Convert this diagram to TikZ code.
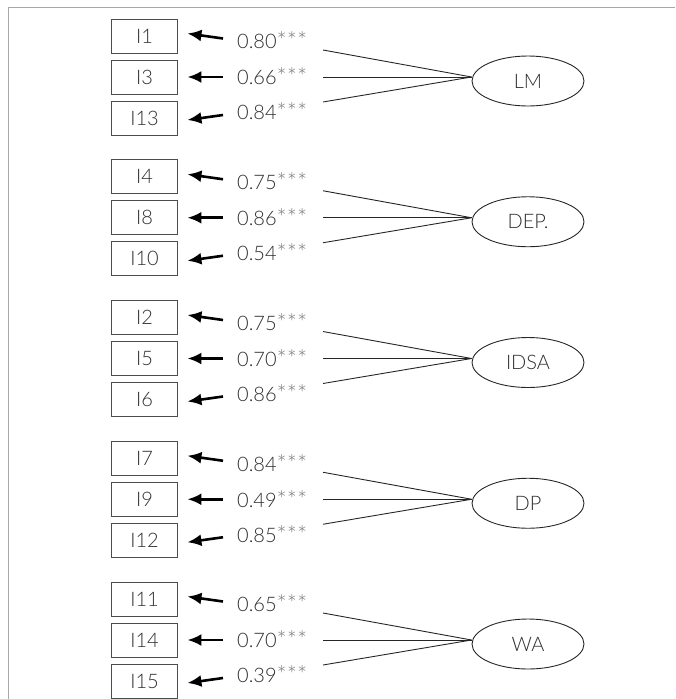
\documentclass[tikz,border=0pt]{standalone}
\usepackage{fontspec}
\setmainfont{Lato Light}
\usetikzlibrary{arrows.meta,shapes.geometric}
\definecolor{txt}{HTML}{2E2E2E}
\definecolor{star}{HTML}{7A7A7A}
\definecolor{frame}{HTML}{A8A8A8}
\tikzset{
  item/.style={draw=black!70, line width=0.9pt, minimum width=66pt, minimum height=34pt,
    inner sep=0pt, font=\fontsize{20}{20}\selectfont, text=txt},
  latent/.style={draw=black!85, line width=0.9pt, ellipse, minimum width=112pt, minimum height=50pt,
    inner sep=0pt, font=\fontsize{20}{20}\selectfont, text=txt},
  load/.style={anchor=west, inner sep=0pt, font=\fontsize{20}{20}\selectfont, text=txt},
  loadarrow/.style={line width=2.6pt, -{Latex[length=14pt,width=12pt]}},
  path/.style={line width=0.9pt, draw=black!85},
}
\newcommand{\coef}[1]{#1{\color{star}\fontsize{24}{24}\selectfont\raisebox{-1pt}{***}}}
\begin{document}
\begin{tikzpicture}[x=1pt,y=-1pt]
\useasboundingbox (0,0) rectangle (675,699);
% outer frame (top and left edges only)
\draw[frame, line width=1pt] (8,699) -- (8,7) -- (675,7);
% one measurement block: top edge, three items, three loadings, factor name, id
\foreach \top/\ia/\ib/\ic/\la/\lb/\lc/\fac/\id in {
  19/I1/I3/I13/0.80/0.66/0.84/LM/a,
  159.75/I4/I8/I10/0.75/0.86/0.54/DEP./b,
  300.5/I2/I5/I6/0.75/0.70/0.86/IDSA/c,
  441.25/I7/I9/I12/0.84/0.49/0.85/DP/d,
  582/I11/I14/I15/0.65/0.70/0.39/WA/e}{
  \node[item] (\id1) at (144.5,\top+17) {\ia};
  \node[item] (\id2) at (144.5,\top+58) {\ib};
  \node[item] (\id3) at (144.5,\top+99) {\ic};
  \node[load] (\id l1) at (237,\top+22) {\coef{\la}};
  \node[load] (\id l2) at (237,\top+58) {\coef{\lb}};
  \node[load] (\id l3) at (237,\top+93) {\coef{\lc}};
  \coordinate (\id t1) at (223,\top+19.5);
  \coordinate (\id t2) at (223,\top+58);
  \coordinate (\id t3) at (223,\top+96);
  \draw[loadarrow] (\id t1) -- ([xshift=9.5pt,yshift=2.5pt]\id1.east);
  \draw[loadarrow] (\id t2) -- ([xshift=9.5pt]\id2.east);
  \draw[loadarrow] (\id t3) -- ([xshift=9.5pt,yshift=-2pt]\id3.east);
  \node[latent] (\id f) at (528,\top+62) {\fac};
  \coordinate (\id s1) at (323,\top+31);
  \coordinate (\id s2) at (323,\top+58);
  \coordinate (\id s3) at (323,\top+83);
  \draw[path] (\id s1) -- ([yshift=4pt]\id f.west);
  \draw[path] (\id s2) -- ([yshift=4pt]\id f.west);
  \draw[path] (\id s3) -- ([yshift=4pt]\id f.west);
}
\end{tikzpicture}
\end{document}
